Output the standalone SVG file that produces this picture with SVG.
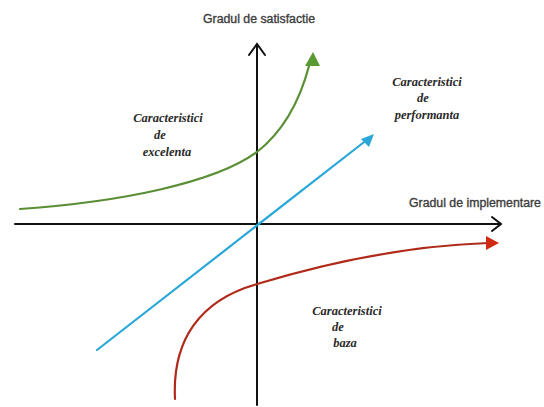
<svg xmlns="http://www.w3.org/2000/svg" width="544" height="407" viewBox="0 0 544 407">
<style>
.axis{stroke:#111;stroke-width:2;fill:none;stroke-linecap:round}
.lbl{font-family:"Liberation Sans",Arial,sans-serif;font-size:12.3px;fill:#3c3c3c;stroke:#3c3c3c;stroke-width:0.35}
.scr{font-family:"Liberation Serif","DejaVu Serif",serif;font-style:italic;font-weight:bold;font-size:12.5px;fill:#2a2a2a;text-anchor:middle}
.curve{fill:none;stroke-width:2.2;stroke-linecap:round}
</style>
<rect width="544" height="407" fill="#fff"/>
<g id="connectors">
<path id="y-axis" class="axis" d="M257,405 L257,46"/>
<path class="axis" d="M249,55 L257,44 L265,55"/>
<path id="x-axis" class="axis" d="M15,224 L500,224"/>
<path class="axis" d="M492,217 L501,224 L492,231"/>
<path id="green" class="curve" stroke="#5a8f35" d="M20,209 C120,202 215,183 257,152 C285,130 300,100 309,66"/>
<polygon fill="#5a9a32" points="313,52 320,66 305,66"/>
<path id="blue" class="curve" stroke="#2aa7d8" d="M97,350 L368,139"/>
<polygon fill="#2aa7d8" points="374,134 369,147 361,139"/>
<path id="red" class="curve" stroke="#b02a1a" d="M175,399 C172,340 200,300 257,284 C320,265 400,246 488,243"/>
<polygon fill="#d12a12" points="499,243 486,236 486,250"/>
</g>
<g id="axis-labels">
<text class="lbl" x="203" y="23">Gradul de satisfactie</text>
<text class="lbl" x="409" y="207">Gradul de implementare</text>
</g>
<g id="excelenta">
<text class="scr" x="168" y="122">Caracteristici</text>
<text class="scr" x="160" y="139">de</text>
<text class="scr" x="167" y="156">excelenta</text>
</g>
<g id="performanta">
<text class="scr" x="427" y="86">Caracteristici</text>
<text class="scr" x="423" y="102">de</text>
<text class="scr" x="427" y="119">performanta</text>
</g>
<g id="baza">
<text class="scr" x="347" y="315">Caracteristici</text>
<text class="scr" x="338" y="331">de</text>
<text class="scr" x="345" y="347">baza</text>
</g>
</svg>
